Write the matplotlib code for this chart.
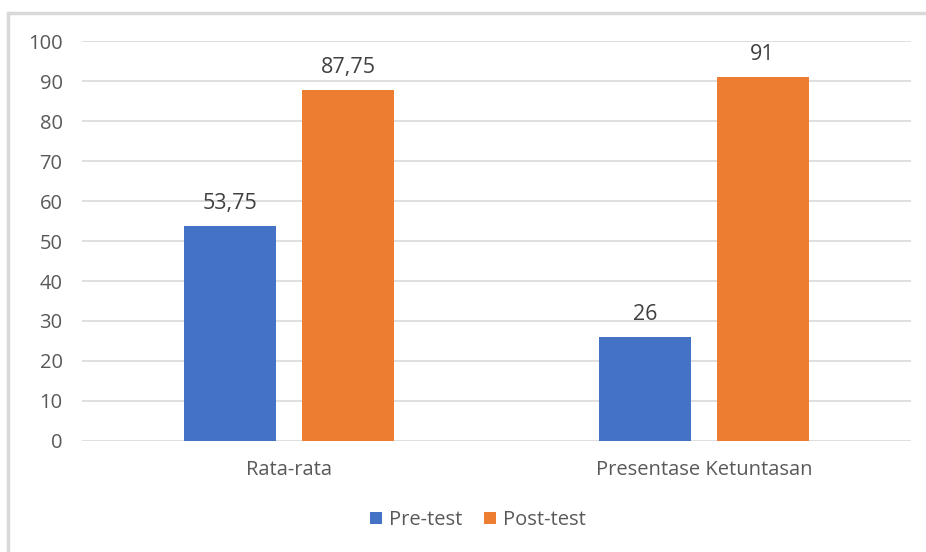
import matplotlib.pyplot as plt
from matplotlib.patches import Rectangle
import numpy as np

plt.rcParams['font.family'] = ['Open Sans', 'DejaVu Sans']

categories = ["Rata-rata", "Presentase Ketuntasan"]
pre_test = [53.75, 26]
post_test = [87.75, 91]
series_names = ["Pre-test", "Post-test"]
colors = ["#4472C4", "#ED7D31"]

fig = plt.figure(figsize=(9.26, 5.52), dpi=100)
ax = fig.add_axes([0.0886, 0.2011, 0.8952, 0.7246])

# chart area frame, runs off the right and bottom edge
fig.patches.append(Rectangle((8 / 926, -0.05), 1.0, 1 - 13 / 552 + 0.05,
                             transform=fig.transFigure, fill=False,
                             edgecolor="#d9d9d9", linewidth=2.5))

x = np.arange(len(categories))
width = 0.222
offset = 0.142
for vals, name, col, sign in zip([pre_test, post_test], series_names, colors, [-1, 1]):
    bars = ax.bar(x + sign * offset, vals, width, color=col, label=name, zorder=3)
    for b, v in zip(bars, vals):
        txt = f"{v:g}".replace(".", ",")
        if v != int(v):
            txt = f"{v:.2f}".replace(".", ",")
        ax.text(b.get_x() + b.get_width() / 2, v + 3.0, txt, ha="center",
                va="bottom", fontsize=15.5, color="#404040")

ax.set_xlim(-0.5, 1.5)
ax.set_ylim(0, 100)
ax.set_yticks(range(0, 101, 10))
ax.set_xticks(x)
ax.set_xticklabels(categories)
ax.tick_params(axis="both", length=0, labelsize=14.5, colors="#595959")
ax.tick_params(axis="y", pad=14)
ax.tick_params(axis="x", pad=14)
ax.grid(axis="y", color="#d9d9d9", linewidth=1.2, zorder=0)
for s in ax.spines.values():
    s.set_visible(False)

fig.legend(*ax.get_legend_handles_labels(), loc="center",
           bbox_to_anchor=(478 / 926, 1 - 520 / 552), ncol=2, frameon=False,
           fontsize=14.5, labelcolor="#595959", handlelength=0.6, handleheight=0.6,
           handletextpad=0.35, columnspacing=1.1)

fig.savefig("out.png", dpi=100)
